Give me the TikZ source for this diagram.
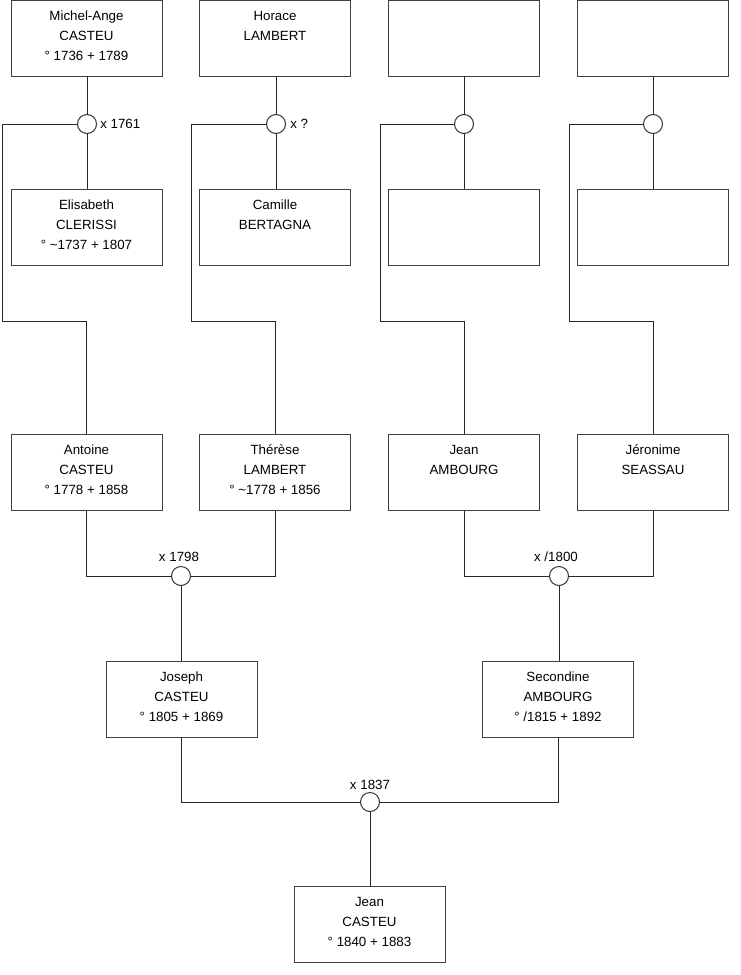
\documentclass[tikz,border=0pt]{standalone}
\usepackage{fontspec}
\setmainfont{Liberation Sans}
\begin{document}
\begin{tikzpicture}[x=0.75pt,y=-0.75pt,
  person/.style={draw=black!75,line width=0.75pt,fill=white,rectangle,minimum width=113.25pt,minimum height=57pt,inner sep=0pt,
    align=center,text height=33.6pt,text depth=0pt,font=\fontsize{10pt}{15pt}\selectfont},
  union/.style={draw=black!80,line width=0.75pt,fill=white,circle,minimum size=14.25pt,inner sep=0pt},
  link/.style={draw=black!85,line width=0.75pt},
  lbl/.style={font=\fontsize{10pt}{12pt}\selectfont,inner sep=0pt}]
\useasboundingbox (0,0) rectangle (740,975);
% row 1
\node[person] (p1) at (86.5,38.5) {Michel-Ange\\CASTEU\\° 1736 + 1789};
\node[person] (p2) at (275,38.5) {Horace\\LAMBERT\\~};
\node[person] (p3) at (464,38.5) {};
\node[person] (p4) at (653,38.5) {};
% unions row 1
\node[union] (u1) at (87,124) {};
\node[union] (u2) at (276,124) {};
\node[union] (u3) at (464,124) {};
\node[union] (u4) at (653,124) {};
\node[lbl,anchor=west] (l1) at (100,124) {x 1761};
\node[lbl,anchor=west] (l2) at (290,124) {x ?};
% row 2
\node[person] (p5) at (86.5,227) {Elisabeth\\CLERISSI\\° \textasciitilde 1737 + 1807};
\node[person] (p6) at (275,227) {Camille\\BERTAGNA\\~};
\node[person] (p7) at (464,227) {};
\node[person] (p8) at (653,227) {};
% row 3
\node[person] (p9) at (86.5,472) {Antoine\\CASTEU\\° 1778 + 1858};
\node[person] (p10) at (275,472) {Thérèse\\LAMBERT\\° \textasciitilde 1778 + 1856};
\node[person] (p11) at (464,472) {Jean\\AMBOURG\\~};
\node[person] (p12) at (653,472) {Jéronime\\SEASSAU\\~};
% unions row 3
\node[union] (u5) at (181,576) {};
\node[union] (u6) at (559,576) {};
\node[lbl] (l5) at (179,557) {x 1798};
\node[lbl] (l6) at (556,557) {x /1800};
% row 4
\node[person] (p13) at (181.5,699) {Joseph\\CASTEU\\° 1805 + 1869};
\node[person] (p14) at (558,699) {Secondine\\AMBOURG\\° /1815 + 1892};
\node[union] (u7) at (370,802) {};
\node[lbl] (l7) at (370,785) {x 1837};
% row 5
\node[person] (p15) at (369.5,924.5) {Jean\\CASTEU\\° 1840 + 1883};
% connectors row 1 -> row 2
\foreach \a/\u/\b in {p1/u1/p5, p2/u2/p6, p3/u3/p7, p4/u4/p8}{
  \draw[link] (\a.south -| \u) -- (\u.north);
  \draw[link] (\u.south) -- (\b.north -| \u);
}
% descent lines
\draw[link] (u1.west) -- (2,124) -- (2,321) -| (p9.north);
\draw[link] (u2.west) -- (191,124) -- (191,321) -| (p10.north);
\draw[link] (u3.west) -- (380,124) -- (380,321) -| (p11.north);
\draw[link] (u4.west) -- (569,124) -- (569,321) -| (p12.north);
% couples row 3
\draw[link] (p9.south) |- (u5.west);
\draw[link] (p10.south) |- (u5.east);
\draw[link] (u5.south) -- (p13.north -| u5);
\draw[link] (p11.south) |- (u6.west);
\draw[link] (p12.south) |- (u6.east);
\draw[link] (u6.south) -- (p14.north -| u6);
% couple row 4
\draw[link] (p13.south) |- (u7.west);
\draw[link] (p14.south) |- (u7.east);
\draw[link] (u7.south) -- (p15.north -| u7);
\end{tikzpicture}
\end{document}
